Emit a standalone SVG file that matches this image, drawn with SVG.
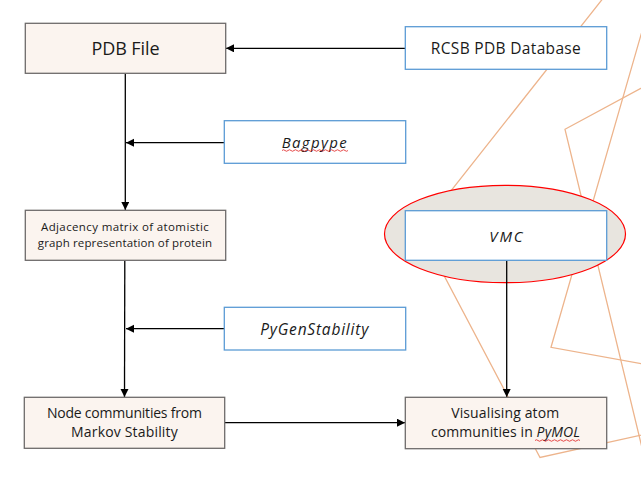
<svg xmlns="http://www.w3.org/2000/svg" width="641" height="481" viewBox="0 0 641 481">
<defs>
<style>
.deco{fill:none;stroke:#EDB48C;stroke-width:1.3}
.proc{fill:#FBF4EF;stroke:#6E6B6A;stroke-width:1.3}
.tool{fill:#FFFFFF;stroke:#5B9BD5;stroke-width:1.3}
.conn{fill:none;stroke:#000;stroke-width:1.3}
.t{font-family:"Open Sans","Liberation Sans",sans-serif;fill:#1A1A1A;text-anchor:middle}
.i{font-style:italic}
.sq{fill:none;stroke:#E02020;stroke-width:0.8}
</style>
<marker id="ah" markerUnits="userSpaceOnUse" markerWidth="9" markerHeight="9" refX="8" refY="4" orient="auto">
<path d="M0,0 L8,4 L0,8 Z" fill="#000"/>
</marker>
</defs>
<rect width="641" height="481" fill="#FFFFFF"/>

<g id="decor">
<polyline class="deco" points="617.5,-20 420,230 540,457.5 660,431"/>
<polyline class="deco" points="651,0 551,347.3 660,367"/>
<polyline class="deco" points="660,78 565,129.3 645,460"/>
</g>

<g id="vmc-highlight">
<ellipse cx="505" cy="234" rx="120.5" ry="48.7" fill="#E8E5DF" stroke="#FF0000" stroke-width="1.2"/>
</g>

<g id="connectors">
<line class="conn" x1="405" y1="48.3" x2="226" y2="48.3" marker-end="url(#ah)"/>
<line class="conn" x1="125.3" y1="73.5" x2="125.3" y2="210" marker-end="url(#ah)"/>
<line class="conn" x1="224" y1="142.7" x2="126" y2="142.7" marker-end="url(#ah)"/>
<line class="conn" x1="124.8" y1="260.5" x2="124.5" y2="397" marker-end="url(#ah)"/>
<line class="conn" x1="224" y1="328.7" x2="126" y2="328.7" marker-end="url(#ah)"/>
<line class="conn" x1="225" y1="422.7" x2="405" y2="422.7" marker-end="url(#ah)"/>
<line class="conn" x1="506.7" y1="260.5" x2="506.7" y2="397" marker-end="url(#ah)"/>
</g>

<g id="pdb-file">
<rect class="proc" x="25.3" y="23.3" width="200.4" height="50"/>
<text class="t" x="125.5" y="55.3" font-size="18" textLength="68" lengthAdjust="spacing">PDB File</text>
</g>

<g id="rcsb">
<rect class="tool" x="405.3" y="26.7" width="201.4" height="42.6"/>
<text class="t" x="505.8" y="54" font-size="15.5" textLength="150" lengthAdjust="spacing">RCSB PDB Database</text>
</g>

<g id="bagpype">
<rect class="tool" x="224.3" y="120.7" width="181.4" height="42.6"/>
<text class="t i" x="314.2" y="147.7" font-size="15" textLength="65" lengthAdjust="spacing">Bagpype</text>
<path class="sq" d="M282,150.5 q1.5,-1.5 3,0 t3,0 t3,0 t3,0 t3,0 t3,0 t3,0 t3,0 t3,0 t3,0 t3,0 t3,0 t3,0 t3,0 t3,0 t3,0 t3,0 t3,0 t3,0 t3,0 t3,0 t3,0"/>
</g>

<g id="adjacency">
<rect class="proc" x="25.3" y="210.3" width="200.4" height="50"/>
<text class="t" x="124.9" y="231" font-size="11.5" textLength="167.7" lengthAdjust="spacing">Adjacency matrix of atomistic</text>
<text class="t" x="124.9" y="247" font-size="11.5" textLength="174.3" lengthAdjust="spacing">graph representation of protein</text>
</g>

<g id="vmc">
<rect class="tool" x="405.3" y="210.7" width="201.4" height="49.6"/>
<text class="t i" x="506" y="242" font-size="15" textLength="33.4" lengthAdjust="spacing">VMC</text>
</g>

<g id="pygenstability">
<rect class="tool" x="224.3" y="307.3" width="181.4" height="42.7"/>
<text class="t i" x="314.3" y="335" font-size="15.5" textLength="108" lengthAdjust="spacing">PyGenStability</text>
</g>

<g id="node-communities">
<rect class="proc" x="24.3" y="397.3" width="200.4" height="51"/>
<text class="t" x="124.4" y="417.7" font-size="14" textLength="155" lengthAdjust="spacing">Node communities from</text>
<text class="t" x="124.4" y="436.7" font-size="14" textLength="106.7" lengthAdjust="spacing">Markov Stability</text>
</g>

<g id="visualising">
<rect class="proc" x="405.3" y="397.3" width="201.4" height="51.4"/>
<text class="t" x="505.2" y="418.3" font-size="14" textLength="108" lengthAdjust="spacing">Visualising atom</text>
<text class="t" x="505.4" y="436.7" font-size="14" textLength="149" lengthAdjust="spacing">communities in <tspan class="i">PyMOL</tspan></text>
<path class="sq" d="M535,440.5 q1.5,-1.5 3,0 t3,0 t3,0 t3,0 t3,0 t3,0 t3,0 t3,0 t3,0 t3,0 t3,0 t3,0 t3,0 t3,0 t3,0"/>
</g>
</svg>
